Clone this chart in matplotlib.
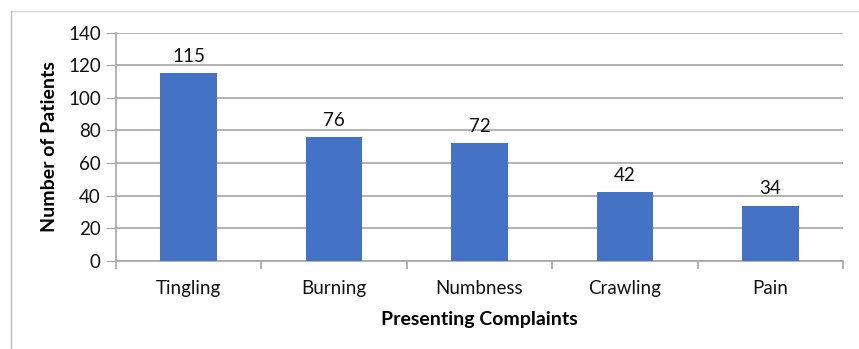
import matplotlib.pyplot as plt
from matplotlib.lines import Line2D
import numpy as np

complaints = ['Tingling', 'Burning', 'Numbness', 'Crawling', 'Pain']
patients = [115, 76, 72, 42, 34]
y_ticks = [0, 20, 40, 60, 80, 100, 120, 140]

plt.rcParams['font.family'] = ['Lato', 'DejaVu Sans']

fig = plt.figure(figsize=(8.59, 3.49), dpi=100)
ax = fig.add_axes([116 / 859, 1 - 261 / 349, (843 - 116) / 859, (261 - 32.5) / 349])

x = np.arange(len(complaints))
ax.bar(x, patients, width=0.39, color='#4472C4', zorder=3)
for xi, v in zip(x, patients):
    ax.annotate(str(v), (xi, v), xytext=(0, 6), textcoords='offset points',
                ha='center', va='bottom', fontsize=13.5, color='#111111')

ax.set_xlim(-0.5, len(complaints) - 0.5)
ax.set_ylim(0, 140)
ax.set_yticks(y_ticks)
ax.tick_params(axis='y', length=7, color='#a6a6a6', labelsize=13.5, pad=4, labelcolor='#111111')
ax.grid(axis='y', color='#a6a6a6', linewidth=1.2, zorder=0)

# category ticks sit between the bars
ax.set_xticks(x)
ax.set_xticklabels(complaints, fontsize=13.5, color='#111111')
ax.tick_params(axis='x', length=0, pad=14)
ax.set_xticks(np.arange(-0.5, len(complaints)), minor=True)
ax.tick_params(axis='x', which='minor', length=6, color='#a6a6a6', width=1.2)

for side in ['top', 'right']:
    ax.spines[side].set_visible(False)
for side in ['left', 'bottom']:
    ax.spines[side].set_color('#a6a6a6')
    ax.spines[side].set_linewidth(1.2)

ax.set_ylabel('Number of Patients', fontsize=14, fontweight='bold', labelpad=7)
ax.set_xlabel('Presenting Complaints', fontsize=14, fontweight='bold', labelpad=10)

# outer frame lines
fig.add_artist(Line2D([11 / 859, 1], [1 - 10.5 / 349] * 2, color='#d9d9d9', linewidth=1))
fig.add_artist(Line2D([11 / 859] * 2, [0, 1 - 10.5 / 349], color='#bfbfbf', linewidth=1))

fig.savefig('out.png', dpi=100)
